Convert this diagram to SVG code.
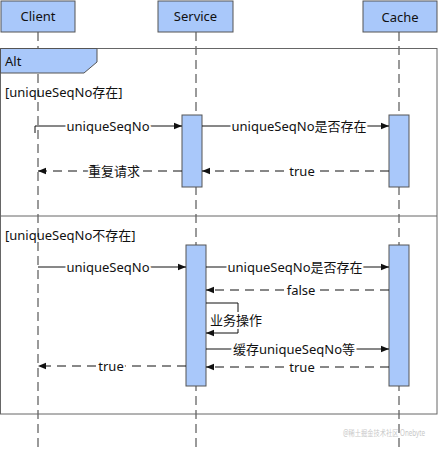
<svg xmlns="http://www.w3.org/2000/svg" width="438" height="451" viewBox="0 0 438 451">
<style>
.box{fill:#a9c8fa;stroke:#555;stroke-width:1}
.life{stroke:#9a9a9a;stroke-width:2;stroke-dasharray:9,5;fill:none}
.frame{fill:none;stroke:#666;stroke-width:1}
.msg{stroke:#111;stroke-width:1;fill:none}
.ret{stroke:#111;stroke-width:1;fill:none;stroke-dasharray:9,6}
.t{font-family:"Noto Sans","Noto Sans CJK SC",sans-serif;font-size:13px;fill:#111}
.c{text-anchor:middle}
.lbl{paint-order:stroke;stroke:#fff;stroke-width:4px}
</style>
<defs>
<marker id="ah" viewBox="0 0 10 10" refX="10" refY="5" markerWidth="8" markerHeight="8" orient="auto" markerUnits="userSpaceOnUse">
<path d="M0,1 L10,5 L0,9 Z" fill="#111"/>
</marker>
</defs>
<rect width="438" height="451" fill="#fff"/>
<g id="lifelines">
<line class="life" x1="38" y1="32" x2="38" y2="451"/>
<line class="life" x1="196" y1="32" x2="196" y2="451"/>
<line class="life" x1="399" y1="32" x2="399" y2="451"/>
</g>
<g id="client"><rect class="box" x="1" y="1" width="74" height="31"/><text class="t c" x="38" y="21">Client</text></g>
<g id="service"><rect class="box" x="158" y="1" width="75" height="31"/><text class="t c" x="195.5" y="21">Service</text></g>
<g id="cache"><rect class="box" x="363" y="1" width="74" height="31"/><text class="t c" x="400" y="22">Cache</text></g>
<g id="alt">
<rect class="frame" x="0.5" y="48.5" width="436.5" height="365.5"/>
<path d="M0.5,48.5 H97 V62 L84,73 H0.5 Z" fill="#a9c8fa" stroke="#555"/>
<text class="t" x="5" y="66">Alt</text>
<text class="t" x="5" y="97">[uniqueSeqNo存在]</text>
<line class="frame" x1="0.5" y1="216" x2="437" y2="216"/>
<text class="t" x="5" y="240">[uniqueSeqNo不存在]</text>
</g>
<g id="act-service-1"><rect class="box" x="182" y="115" width="20" height="72"/></g>
<g id="act-cache-1"><rect class="box" x="389" y="115" width="20" height="72"/></g>
<g id="act-service-2"><rect class="box" x="186" y="245" width="20" height="141"/></g>
<g id="act-cache-2"><rect class="box" x="389" y="245" width="20" height="141"/></g>
<g id="connectors">
<path class="msg" d="M35,133 V126 H182" marker-end="url(#ah)"/>
<path class="msg" d="M202,126 H389" marker-end="url(#ah)"/>
<path class="ret" d="M182,171 H38" marker-end="url(#ah)"/>
<path class="ret" d="M389,171 H202" marker-end="url(#ah)"/>
<path class="msg" d="M38,267 H186" marker-end="url(#ah)"/>
<path class="msg" d="M206,267 H389" marker-end="url(#ah)"/>
<path class="ret" d="M389,290 H206" marker-end="url(#ah)"/>
<path class="msg" d="M206,303 H238 V333 H206" marker-end="url(#ah)"/>
<path class="msg" d="M206,349 H389" marker-end="url(#ah)"/>
<path class="ret" d="M389,367 H206" marker-end="url(#ah)"/>
<path class="ret" d="M186,366 H38" marker-end="url(#ah)"/>
</g>
<g id="labels">
<text class="t c lbl" x="108" y="131">uniqueSeqNo</text>
<text class="t c lbl" x="299" y="131">uniqueSeqNo是否存在</text>
<text class="t c lbl" x="114" y="176">重复请求</text>
<text class="t c lbl" x="302" y="176">true</text>
<text class="t c lbl" x="108" y="272">uniqueSeqNo</text>
<text class="t c lbl" x="295" y="272">uniqueSeqNo是否存在</text>
<text class="t c lbl" x="301" y="295">false</text>
<text class="t lbl" x="210" y="325">业务操作</text>
<text class="t c lbl" x="294" y="354">缓存uniqueSeqNo等</text>
<text class="t c lbl" x="302" y="372">true</text>
<text class="t c lbl" x="111" y="371">true</text>
</g>
<text x="343" y="436" font-family="Noto Sans, Noto Sans CJK SC, sans-serif" font-size="8" fill="#c8c8c8" textLength="82" lengthAdjust="spacingAndGlyphs">@稀土掘金技术社区 Onebyte</text>
</svg>
